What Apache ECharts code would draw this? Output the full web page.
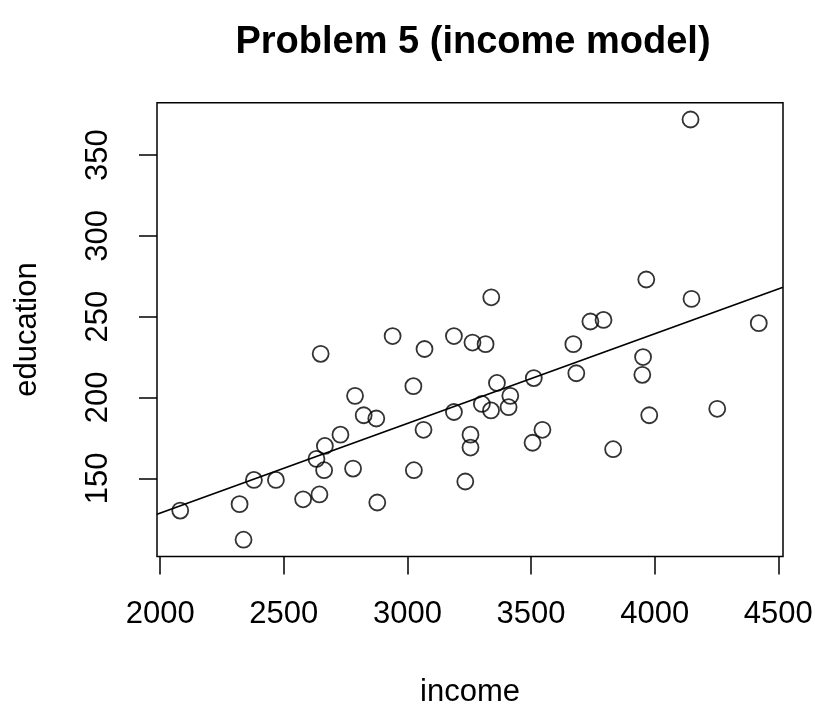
<!DOCTYPE html>
<html>
<head>
<meta charset="utf-8">
<script src="https://cdn.jsdelivr.net/npm/echarts@6/dist/echarts.min.js"></script>
<style>
html,body{margin:0;padding:0;background:#fff;}
#chart{width:815px;height:704px;}
</style>
</head>
<body>
<div id="chart"></div>
<script>
const income = [2081,2321,2337,2379,2468,2578,2644,2632,2666,2663,2649,2729,2780,2788,2823,2874,2878,2940,3069,3024,3065,3026,3188,3188,3234,3263,3316,3255,3255,3301,3338,3362,3416,3409,3511,3506,3546,3671,3683,3832,3953,3950,3978,4253,4421,3740,3793,4145,3966,3339,4149];
const education = [130,134,112,149,149,137,140,162,170,155,227,177,156,201,189,187,135,238,230,207,180,155,238,191,148,234,233,177,169,196,192,209,201,194,212,172,180,233,215,168,225,214,189,193,246,247,248,372,273,262,261];
const xTicks = [2000,2500,3000,3500,4000,4500];
const yTicks = [150,200,250,300,350];
const xRange = [1987, 4519];
const yRange = [101.6, 382.4];

// least-squares fit education ~ income
const n = income.length;
let mx = 0, my = 0;
for (let i = 0; i < n; i++) { mx += income[i]; my += education[i]; }
mx /= n; my /= n;
let sxy = 0, sxx = 0;
for (let i = 0; i < n; i++) { sxy += (income[i]-mx)*(education[i]-my); sxx += (income[i]-mx)**2; }
const slope = sxy / sxx;
const intercept = my - slope * mx;
const fitLine = xRange.map(x => [x, intercept + slope * x]);

const pts = income.map((x, i) => [x, education[i]]);
const font = '"Liberation Sans", Arial, sans-serif';

const chart = echarts.init(document.getElementById('chart'), null, {renderer: 'canvas'});
chart.setOption({
  animation: false,
  backgroundColor: '#fff',
  title: {
    text: 'Problem 5 (income model)',
    left: 468, top: 19, textAlign: 'center',
    textStyle: {fontFamily: font, fontSize: 38, fontWeight: 'bold', color: '#000'}
  },
  grid: {
    left: 157, right: 32, top: 102.7, bottom: 147.5,
    show: true, borderColor: '#000', borderWidth: 1.5, backgroundColor: 'transparent',
    containLabel: false, outerBoundsMode: 'none'
  },
  xAxis: {
    type: 'value', min: xRange[0], max: xRange[1],
    name: 'income', nameLocation: 'middle', nameGap: 120,
    nameTextStyle: {fontFamily: font, fontSize: 31, color: '#000'},
    axisLine: {show: false},
    axisTick: {show: true, inside: false, length: 18, customValues: xTicks, lineStyle: {color: '#000', width: 1.5}},
    axisLabel: {customValues: xTicks, margin: 42, fontFamily: font, fontSize: 31, color: '#000',
      formatter: v => String(v)},
    splitLine: {show: false}
  },
  yAxis: {
    type: 'value', min: yRange[0], max: yRange[1],
    name: 'education', nameLocation: 'middle', nameGap: 114, nameRotate: 90,
    nameTextStyle: {fontFamily: font, fontSize: 31, color: '#000'},
    axisLine: {show: false},
    axisTick: {show: true, inside: false, length: 18, customValues: yTicks, lineStyle: {color: '#000', width: 1.5}},
    axisLabel: {customValues: yTicks, rotate: 90, margin: 43, fontFamily: font, fontSize: 31, color: '#000',
      formatter: v => String(v)},
    splitLine: {show: false}
  },
  series: [
    {
      type: 'scatter', data: pts, symbol: 'circle', symbolSize: 16,
      itemStyle: {color: 'transparent', borderColor: '#000', borderWidth: 1.8},
      emphasis: {disabled: true}
    },
    {
      type: 'line', data: fitLine, symbol: 'none', clip: true,
      lineStyle: {color: '#000', width: 1.8}
    }
  ]
});
</script>
</body>
</html>
